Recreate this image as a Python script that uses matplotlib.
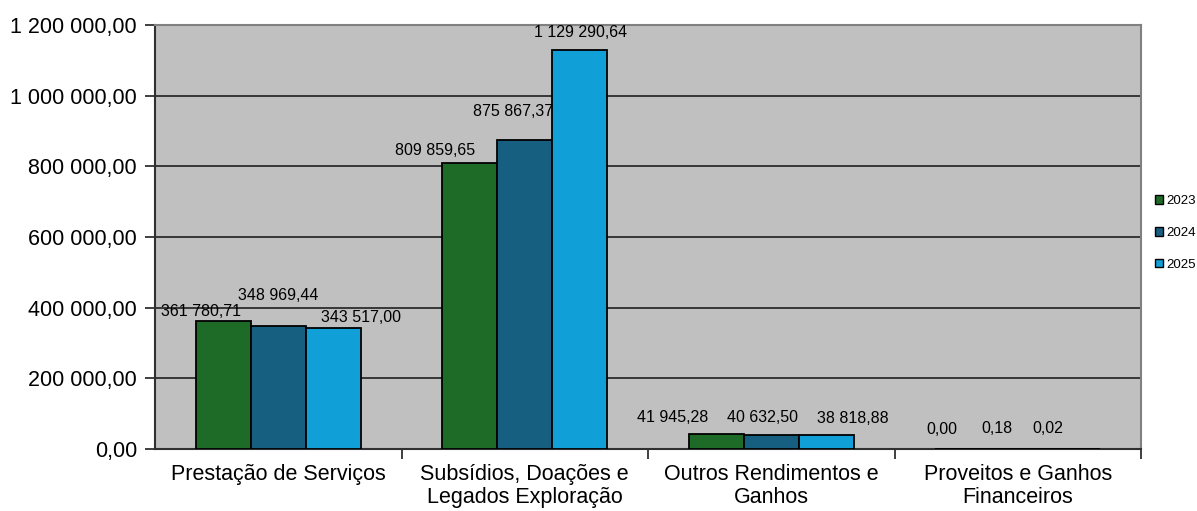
import numpy as np
import matplotlib.pyplot as plt
from matplotlib.patches import Patch
from matplotlib.ticker import FuncFormatter, FixedLocator

plt.rcParams['font.family'] = ['Liberation Sans', 'DejaVu Sans']

categories = ['Prestação de Serviços', 'Subsídios, Doações e\nLegados Exploração',
              'Outros Rendimentos e\nGanhos', 'Proveitos e Ganhos\nFinanceiros']
years = ['2023', '2024', '2025']
v2023 = [361780.71, 809859.65, 41945.28, 0.00]
v2024 = [348969.44, 875867.37, 40632.50, 0.18]
v2025 = [343517.00, 1129290.64, 38818.88, 0.02]
series = [v2023, v2024, v2025]
colors = ['#1d6b27', '#175f80', '#119fd8']

# label offsets (px) so the labels sit like the original layout
offsets = [
    [(-22, 10), (0, 30), (28, 10)],
    [(-35, 12), (-12, 28), (1, 17)],
    [(-44, 17), (-9, 17), (27, 17)],
    [(-21, 20), (-21, 20), (-25, 20)],
]


def fmt(v, dec=2):
    s = f"{v:,.{dec}f}"
    return s.replace(',', ' ').replace('.', ',')


fig = plt.figure(figsize=(11.97, 5.11), dpi=100)
ax = fig.add_axes([155 / 1197, 62 / 511, 986 / 1197, 424 / 511])
ax.set_facecolor('#c0c0c0')

x = np.arange(len(categories))
w = 0.223
for i, (vals, c) in enumerate(zip(series, colors)):
    xs = x + (i - 1) * w
    ax.bar(xs, vals, width=w, color=c, edgecolor='black', linewidth=1.3, zorder=3)
    for j, v in enumerate(vals):
        dx, dy = offsets[j][i]
        ax.annotate(fmt(v), (xs[j], v), xytext=(dx * 0.72, dy * 0.72),
                    textcoords='offset points', ha='center', va='center',
                    fontsize=11.5, color='black', zorder=4)

ax.set_xlim(-0.5, 3.5)
ax.set_ylim(0, 1200000)
ax.yaxis.set_major_locator(FixedLocator(np.arange(0, 1200001, 200000)))
ax.yaxis.set_major_formatter(FuncFormatter(lambda v, p: fmt(v)))
ax.grid(axis='y', color='#202020', linewidth=1.2, zorder=1)

ax.set_xticks(x)
ax.set_xticklabels(categories, fontsize=15.5, linespacing=1.12)
ax.xaxis.set_minor_locator(FixedLocator([0.5, 1.5, 2.5, 3.5]))
ax.tick_params(axis='x', which='major', length=0, pad=11)
ax.tick_params(axis='x', which='minor', length=7, width=1.3, color='#303030')
ax.tick_params(axis='y', labelsize=15.5, length=7, width=1.3, color='#303030', pad=6)

for side in ['left', 'bottom']:
    ax.spines[side].set_color('#303030')
    ax.spines[side].set_linewidth(1.5)
for side in ['top', 'right']:
    ax.spines[side].set_color('#808080')
    ax.spines[side].set_linewidth(1.5)

handles = [Patch(facecolor=c, edgecolor='black', linewidth=1.0) for c in colors]
fig.legend(handles, years, loc='center left', bbox_to_anchor=(1150 / 1197, 278 / 511),
           frameon=False, fontsize=9.5, handlelength=0.6, handleheight=0.6,
           handletextpad=0.2, labelspacing=1.5, borderaxespad=0)

plt.savefig('out.png', dpi=100)
